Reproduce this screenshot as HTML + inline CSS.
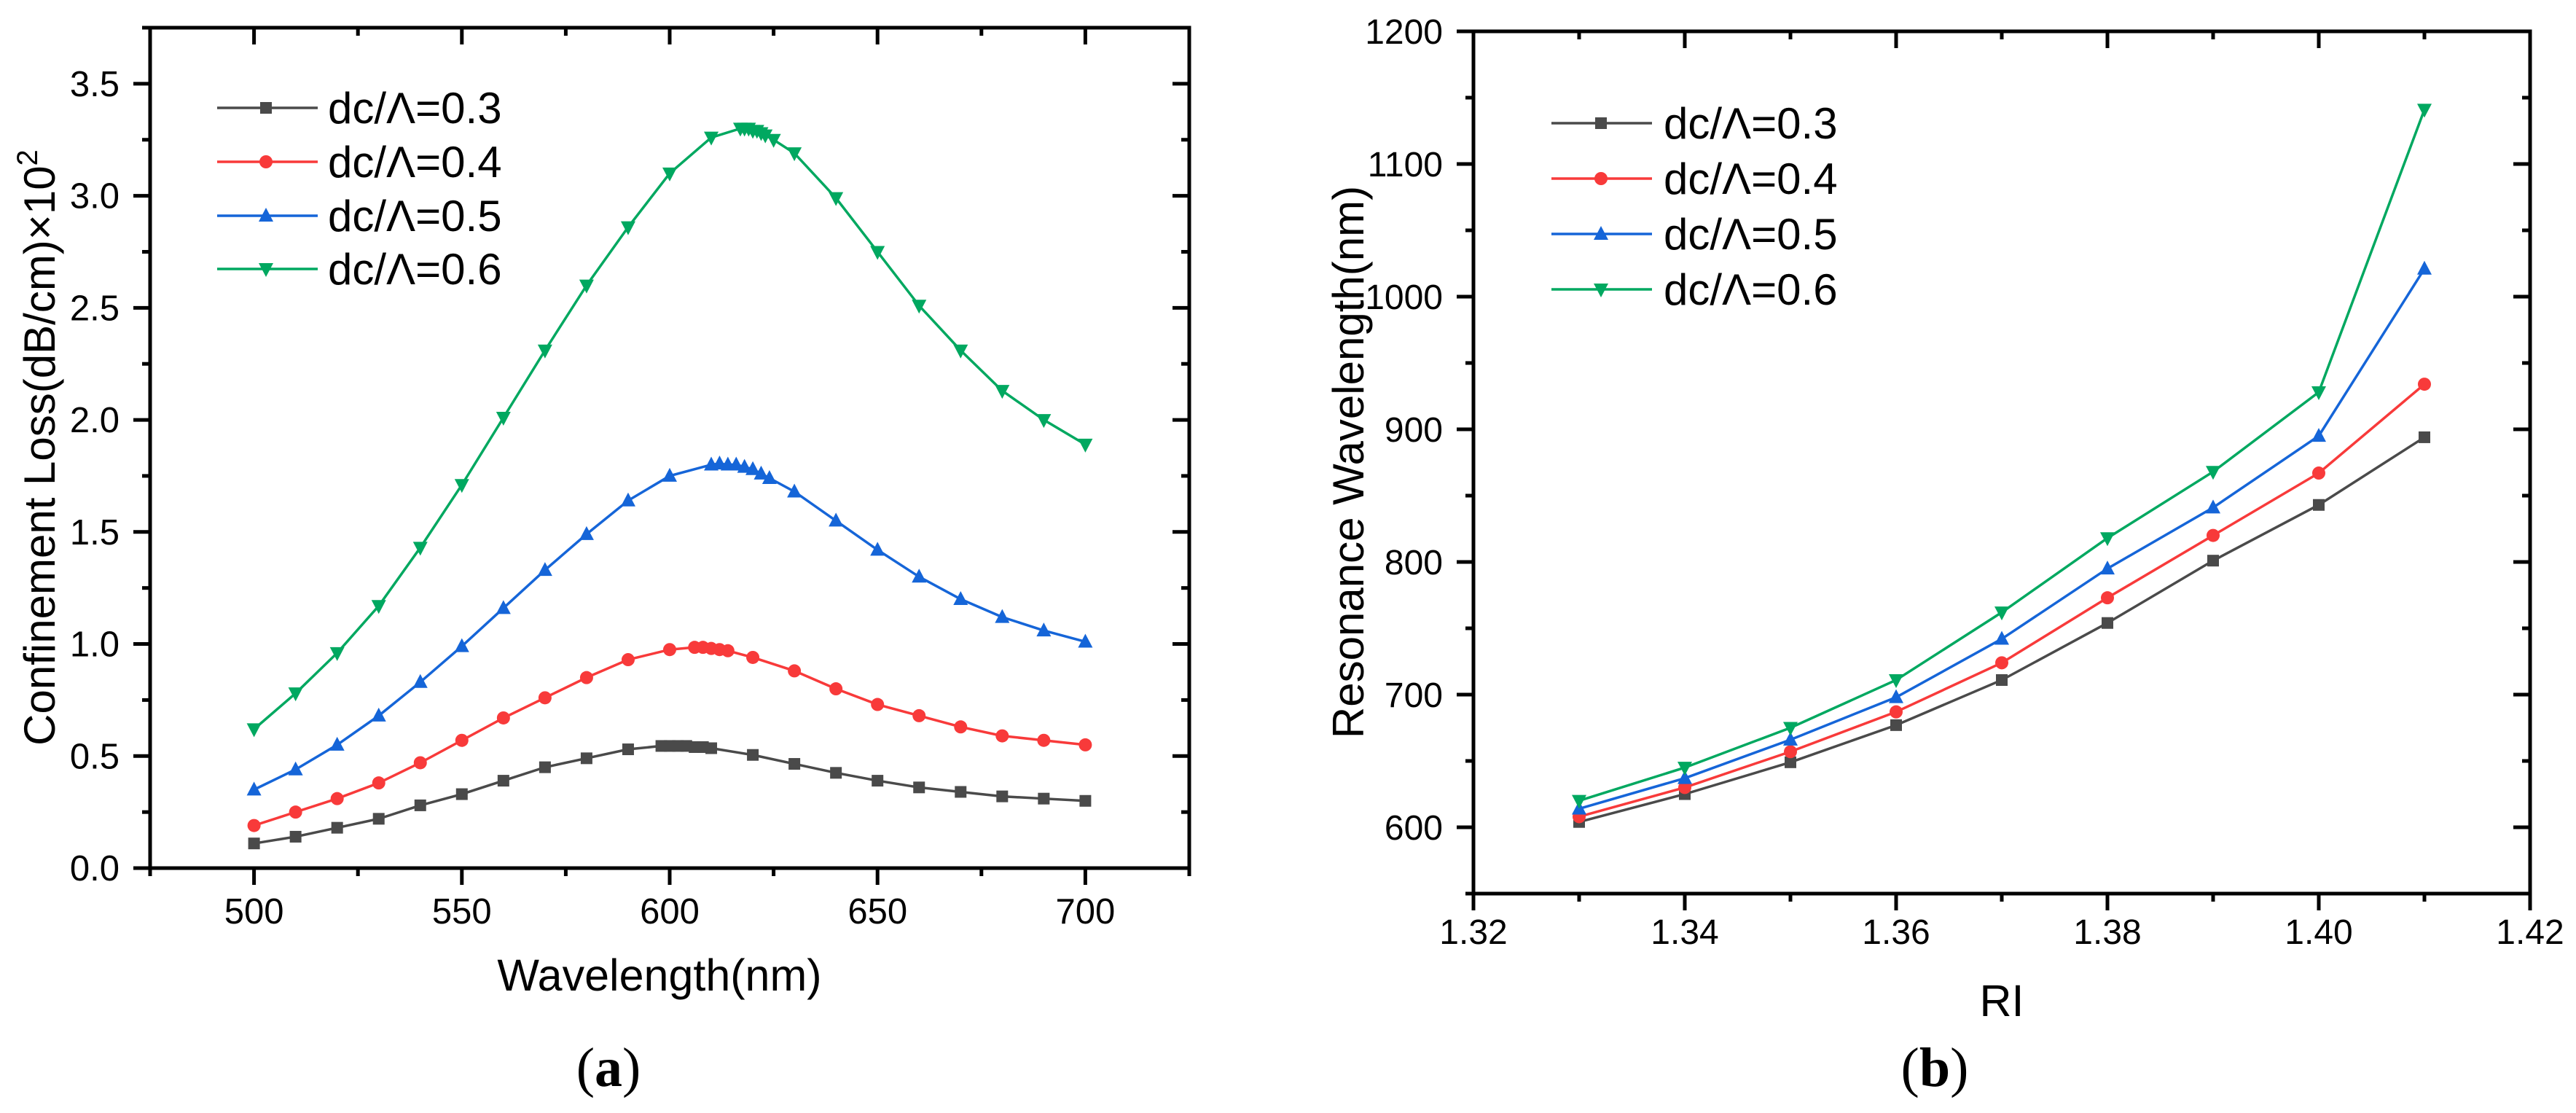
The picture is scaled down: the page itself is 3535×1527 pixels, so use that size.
<!DOCTYPE html>
<html><head><meta charset="utf-8"><style>
html,body{margin:0;padding:0;background:#fff;}
svg{display:block;}
text{font-family:"Liberation Sans",Arial,sans-serif;fill:#000;}
</style></head><body>
<svg id="fig" width="3535" height="1527" viewBox="0 0 3535 1527" xmlns="http://www.w3.org/2000/svg"></svg>
<script>
// ---------- Data: chart (a) ----------
const aX03 = [500,510,520,530,540,550,560,570,580,590,598,600,602,604,606,608,610,620,630,640,650,660,670,680,690,700];
const aY03 = [0.11,0.14,0.18,0.22,0.28,0.33,0.39,0.45,0.49,0.53,0.545,0.545,0.545,0.545,0.54,0.54,0.535,0.505,0.465,0.425,0.39,0.36,0.34,0.32,0.31,0.30];
const aX04 = [500,510,520,530,540,550,560,570,580,590,600,606,608,610,612,614,620,630,640,650,660,670,680,690,700];
const aY04 = [0.19,0.25,0.31,0.38,0.47,0.57,0.67,0.76,0.85,0.93,0.975,0.985,0.985,0.98,0.975,0.97,0.94,0.88,0.80,0.73,0.68,0.63,0.59,0.57,0.55];
const aX05 = [500,510,520,530,540,550,560,570,580,590,600,610,612,614,616,618,620,622,624,630,640,650,660,670,680,690,700];
const aY05 = [0.35,0.44,0.55,0.68,0.83,0.99,1.16,1.33,1.49,1.64,1.75,1.80,1.805,1.80,1.80,1.79,1.78,1.76,1.74,1.68,1.55,1.42,1.30,1.20,1.12,1.06,1.01];
const aX06 = [500,510,520,530,540,550,560,570,580,590,600,610,617,618,619,620,621,622,623,625,630,640,650,660,670,680,690,700];
const aY06 = [0.62,0.78,0.96,1.17,1.43,1.71,2.01,2.31,2.60,2.86,3.10,3.26,3.30,3.30,3.30,3.29,3.29,3.28,3.27,3.25,3.19,2.99,2.75,2.51,2.31,2.13,2.00,1.89];
const aXTicks = [500,550,600,650,700];
const aYTicks = [0.0,0.5,1.0,1.5,2.0,2.5,3.0,3.5];
const aYLabels = ["0.0","0.5","1.0","1.5","2.0","2.5","3.0","3.5"];
// ---------- Data: chart (b) ----------
const bX = [1.33,1.34,1.35,1.36,1.37,1.38,1.39,1.40,1.41];
const bY03 = [604,625,649,677,711,754,801,843,894];
const bY04 = [608,630,657,687,724,773,820,867,934];
const bY05 = [614,637,666,698,742,795,841,895,1021];
const bY06 = [620,645,675,711,762,818,868,928,1141];
const bXTicks = [1.32,1.34,1.36,1.38,1.40,1.42];
const bXLabels = ["1.32","1.34","1.36","1.38","1.40","1.42"];
const bYTicks = [600,700,800,900,1000,1100,1200];
const seriesNames = ["dc/\u039B=0.3","dc/\u039B=0.4","dc/\u039B=0.5","dc/\u039B=0.6"];
const colors = ["#4a4a4a","#f83a3a","#1565d8","#00a860"];
const markers = ["square","circle","up","down"];

const NS="http://www.w3.org/2000/svg";
const svg=document.getElementById('fig');
function el(tag,attrs,parent){const e=document.createElementNS(NS,tag);for(const k in attrs)e.setAttribute(k,attrs[k]);(parent||svg).appendChild(e);return e;}
function txt(s,attrs,parent){const e=el('text',attrs,parent);e.textContent=s;return e;}
function marker(kind,x,y,c,g){
  let m;
  if(kind==='square') m=el('rect',{x:x-8,y:y-8,width:16,height:16,fill:c},g);
  else if(kind==='circle') m=el('circle',{cx:x,cy:y,r:9,fill:c},g);
  else if(kind==='up') m=el('polygon',{points:`${x},${y-11} ${x-10},${y+8} ${x+10},${y+8}`,fill:c},g);
  else m=el('polygon',{points:`${x},${y+11} ${x-10},${y-8} ${x+10},${y-8}`,fill:c},g);
  return m;
}
function drawFrame(L,T,R,B,g){
  const f=el('rect',{x:L,y:T,width:R-L,height:B-T,fill:'none',stroke:'#000','stroke-width':5},g);
  
  
}
function series(g,xs,ys,sx,sy,c,mk,name){
  const sg=el('g',{},g);
  
  
  el('polyline',{points:xs.map((x,i)=>sx(x)+','+sy(ys[i])).join(' '),fill:'none',stroke:c,'stroke-width':3.5},sg);
  xs.forEach((x,i)=>{const m=marker(mk,sx(x),sy(ys[i]),c,sg);
    
    });
}
function legend(g,x0,x1,mx,tx,ys){
  seriesNames.forEach((n,i)=>{
    const lg=el('g',{},g);
    
    
    el('line',{x1:x0,y1:ys[i],x2:x1,y2:ys[i],stroke:colors[i],'stroke-width':3.5},lg);
    marker(markers[i],mx,ys[i],colors[i],lg);
    txt(n,{x:tx,y:ys[i]+21,'font-size':60},lg);
  });
}

// ---------- Chart (a) ----------
(function(){
  const g=el('g',{});
  
  
  const L=206,R=1632,T=38,B=1191;
  const sx=v=>L+(v-475)/250*(R-L);
  const sy=v=>B-v/3.75*(B-T);
  // x ticks
  for(let v=475;v<=725;v+=25){
    const maj=(v%50===0);const x=sx(v);
    el('line',{x1:x,y1:B,x2:x,y2:B+(maj?23:11),stroke:'#000','stroke-width':5},g);
    el('line',{x1:x,y1:T,x2:x,y2:T+(maj?23:11),stroke:'#000','stroke-width':5},g);
  }
  aXTicks.forEach(v=>{const t=txt(String(v),{x:sx(v),y:1267,'font-size':49,'text-anchor':'middle'},g);
    });
  for(let k=0;k<=15;k++){
    const v=k*0.25;const y=sy(v);const maj=(k%2===0);
    el('line',{x1:L,y1:y,x2:L-(maj?23:11),y2:y,stroke:'#000','stroke-width':5},g);
    el('line',{x1:R,y1:y,x2:R-(maj?23:11),y2:y,stroke:'#000','stroke-width':5},g);
  }
  aYTicks.forEach((v,i)=>{const t=txt(aYLabels[i],{x:164,y:sy(v)+17,'font-size':49,'text-anchor':'end'},g);
    });
  drawFrame(L,T,R,B,g);
  series(g,aX03,aY03,sx,sy,colors[0],markers[0],'series-0-3');
  series(g,aX04,aY04,sx,sy,colors[1],markers[1],'series-0-4');
  series(g,aX05,aY05,sx,sy,colors[2],markers[2],'series-0-5');
  series(g,aX06,aY06,sx,sy,colors[3],markers[3],'series-0-6');
  legend(g,298,436,365,450,[148,222,296,369]);
  const xt=txt('Wavelength(nm)',{x:905,y:1359,'font-size':61,'text-anchor':'middle'},g);
  
  const yt=el('text',{x:0,y:0,'font-size':60,'text-anchor':'middle',transform:'translate(75,614) rotate(-90)'},g);
  
  yt.textContent='Confinement Loss(dB/cm)\u00D710';
  const sup=el('tspan',{'font-size':40,dy:-24},yt);sup.textContent='2';
  const cap=el('text',{x:835,y:1490,'font-size':76,'text-anchor':'middle','font-family':'Liberation Serif, serif'},g);
  
  cap.style.fontFamily='"Liberation Serif",serif';
  cap.innerHTML='(<tspan font-weight="bold">a</tspan>)';
})();

// ---------- Chart (b) ----------
(function(){
  const g=el('g',{});
  
  
  const L=2022,R=3472,T=43,B=1226;
  const sx=v=>L+(v-1.32)/0.10*(R-L);
  const sy=v=>B-(v-550)/650*(B-T);
  bXTicks.forEach((v,i)=>{const x=sx(v);
    el('line',{x1:x,y1:B,x2:x,y2:B+23,stroke:'#000','stroke-width':5},g);
    el('line',{x1:x,y1:T,x2:x,y2:T+23,stroke:'#000','stroke-width':5},g);
    const t=txt(bXLabels[i],{x:x,y:1295,'font-size':48,'text-anchor':'middle'},g);
    });
  for(let v=1.33;v<1.42;v+=0.02){const x=sx(v);
    el('line',{x1:x,y1:B,x2:x,y2:B+11,stroke:'#000','stroke-width':5},g);
    el('line',{x1:x,y1:T,x2:x,y2:T+11,stroke:'#000','stroke-width':5},g);}
  for(let v=550;v<=1200;v+=50){const y=sy(v);const maj=(v%100===0);
    el('line',{x1:L,y1:y,x2:L-(maj?23:11),y2:y,stroke:'#000','stroke-width':5},g);
    el('line',{x1:R,y1:y,x2:R-(maj?23:11),y2:y,stroke:'#000','stroke-width':5},g);}
  bYTicks.forEach(v=>{const t=txt(String(v),{x:1980,y:sy(v)+17,'font-size':48,'text-anchor':'end'},g);
    });
  drawFrame(L,T,R,B,g);
  series(g,bX,bY03,sx,sy,colors[0],markers[0],'series-0-3');
  series(g,bX,bY04,sx,sy,colors[1],markers[1],'series-0-4');
  series(g,bX,bY05,sx,sy,colors[2],markers[2],'series-0-5');
  series(g,bX,bY06,sx,sy,colors[3],markers[3],'series-0-6');
  legend(g,2129,2267,2197,2283,[169,245,321,397]);
  const xt=txt('RI',{x:2747,y:1394,'font-size':61,'text-anchor':'middle'},g);
  
  const yt=txt('Resonance Wavelength(nm)',{x:0,y:0,'font-size':60,'text-anchor':'middle',transform:'translate(1871,634) rotate(-90)'},g);
  
  const cap=el('text',{x:2655,y:1490,'font-size':76,'text-anchor':'middle'},g);
  
  cap.style.fontFamily='"Liberation Serif",serif';
  cap.innerHTML='(<tspan font-weight="bold">b</tspan>)';
})();
</script>
</body></html>
